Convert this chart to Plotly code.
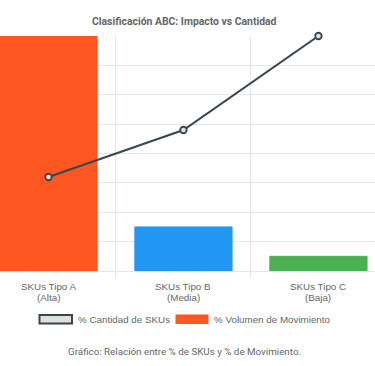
import plotly.graph_objects as go

categories = ["SKUs Tipo A", "SKUs Tipo B", "SKUs Tipo C"]
category_sub = ["(Alta)", "(Media)", "(Baja)"]
volumen_mov = [80, 15, 5]          # % Volumen de Movimiento (bars, left axis)
cantidad_skus = [20, 30, 50]       # % Cantidad de SKUs (line, right axis)
bar_colors = ["#FF5722", "#2196F3", "#4CAF50"]
series_names = ["% Cantidad de SKUs", "% Volumen de Movimiento"]
title_text = "Clasificación ABC: Impacto vs Cantidad"
caption_text = "Gráfico: Relación entre % de SKUs y % de Movimiento."

W, H = 375, 366
PT, PB = 36, 271  # plot area top/bottom in pixels

fig = go.Figure()
fig.add_trace(go.Bar(
    x=categories, y=volumen_mov, width=0.72,
    marker=dict(color=bar_colors, line=dict(color=bar_colors, width=1)),
    showlegend=False, yaxis="y", hoverinfo="skip",
))
fig.add_trace(go.Scatter(
    x=categories, y=cantidad_skus, mode="lines+markers", yaxis="y2",
    line=dict(color="#37474F", width=2),
    marker=dict(size=6.5, color="#E0E0E0", line=dict(color="#37474F", width=1.8)),
    showlegend=False, cliponaxis=False, hoverinfo="skip",
))

grid = "#E6E6E6"
fig.update_layout(
    width=W, height=H,
    margin=dict(l=0, r=0, t=PT, b=H - PB),
    paper_bgcolor="white", plot_bgcolor="white",
    font=dict(family="Liberation Sans, Arial, sans-serif", color="#666666", size=10),
    hovermode=False,
    xaxis=dict(
        type="category", range=[-0.359, 2.419],
        showgrid=True, gridcolor=grid, gridwidth=1, tickson="boundaries",
        ticks="outside", ticklen=6, tickcolor=grid,
        showline=True, linecolor=grid, showticklabels=False, zeroline=False,
    ),
    yaxis=dict(
        range=[0, 80], dtick=10, showgrid=True, gridcolor=grid, gridwidth=1,
        showticklabels=False, zeroline=False, showline=False, ticks="",
    ),
    yaxis2=dict(
        range=[0, 50], overlaying="y", side="right", showgrid=False,
        showticklabels=False, zeroline=False, showline=False, ticks="",
    ),
)


def py(p):
    return (PB - p) / (PB - PT)


def px(p):
    return p / W


FS = 9.8
# category labels (two lines)
for c, sub in zip(categories, category_sub):
    fig.add_annotation(x=c, xref="x", y=py(286), yref="paper", yanchor="middle",
                       text=c, showarrow=False,
                       font=dict(size=FS, color="#666666"))
    fig.add_annotation(x=c, xref="x", y=py(297), yref="paper", yanchor="middle",
                       text=sub, showarrow=False,
                       font=dict(size=FS, color="#666666"))

# title
fig.add_annotation(x=px(184), xref="paper", y=py(21.5), yref="paper",
                   text="<b>" + title_text + "</b>", showarrow=False,
                   xanchor="center", yanchor="middle",
                   font=dict(family="Roboto, sans-serif", size=10.4, color="#666666"))

# custom legend (Chart.js style boxes)
fig.add_shape(type="rect", xref="paper", yref="paper",
              x0=px(39.5), x1=px(72), y0=py(323.5), y1=py(315),
              fillcolor="#E0E0E0", line=dict(color="#37474F", width=2))
fig.add_annotation(x=px(75.5), xref="paper", y=py(319.3), yref="paper",
                   text=series_names[0], showarrow=False, xanchor="left", yanchor="middle",
                   font=dict(size=FS, color="#666666"))
fig.add_shape(type="rect", xref="paper", yref="paper",
              x0=px(175.5), x1=px(208.5), y0=py(324), y1=py(314.5),
              fillcolor=bar_colors[0], line=dict(width=0))
fig.add_annotation(x=px(212), xref="paper", y=py(319.3), yref="paper",
                   text=series_names[1], showarrow=False, xanchor="left", yanchor="middle",
                   font=dict(size=FS, color="#666666"))

# caption
fig.add_annotation(x=px(184), xref="paper", y=py(351.5), yref="paper",
                   text=caption_text, showarrow=False, xanchor="center", yanchor="middle",
                   font=dict(family="Roboto, sans-serif", size=9.8, color="#666666"))

fig.write_html("out.html", config={"displayModeBar": False, "staticPlot": True},
               post_script="document.body.style.margin='0';document.body.style.padding='0';")
